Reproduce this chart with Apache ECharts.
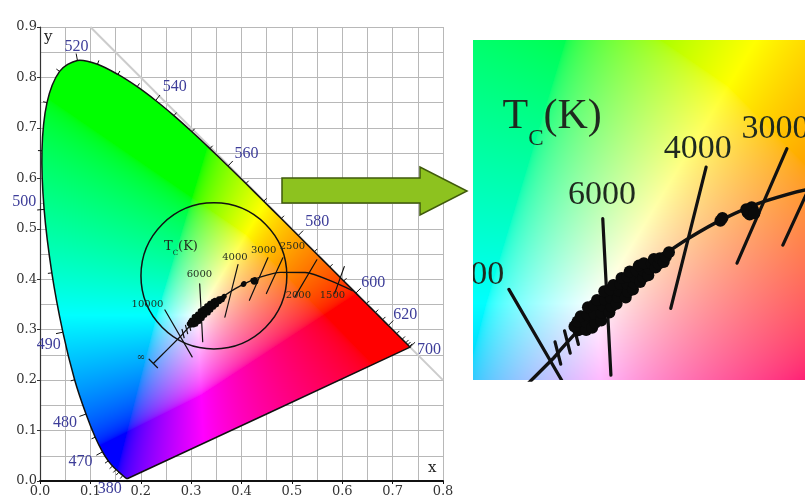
<!DOCTYPE html>
<html>
<head>
<meta charset="utf-8">
<title>CIE 1931 chromaticity diagram with Planckian locus</title>
<script src="https://cdn.jsdelivr.net/npm/echarts@6/dist/echarts.min.js"></script>
<style>
  html, body { margin: 0; padding: 0; background: #ffffff; }
  #chart { width: 805px; height: 498px; }
</style>
</head>
<body>
<div id="chart"></div>
<script>
// ---- Spectral locus (CIE 1931, 2 degree observer) ----
const wavelengths = [380, 400, 420, 440, 450, 455, 460, 465, 470, 475, 480, 485, 490, 495, 500, 505, 510, 515, 520, 525, 530, 535, 540, 545, 550, 555, 560, 565, 570, 575, 580, 585, 590, 595, 600, 605, 610, 615, 620, 630, 640, 650, 660, 680, 700];
const locusX = [0.1741, 0.1733, 0.1714, 0.1644, 0.1566, 0.1510, 0.1440, 0.1355, 0.1241, 0.1096, 0.0913, 0.0687, 0.0454, 0.0235, 0.0082, 0.0039, 0.0139, 0.0389, 0.0743, 0.1142, 0.1547, 0.1929, 0.2296, 0.2658, 0.3016, 0.3373, 0.3731, 0.4087, 0.4441, 0.4788, 0.5125, 0.5448, 0.5752, 0.6029, 0.6270, 0.6482, 0.6658, 0.6801, 0.6915, 0.7079, 0.7190, 0.7260, 0.7300, 0.7334, 0.7347];
const locusY = [0.0050, 0.0048, 0.0051, 0.0109, 0.0177, 0.0227, 0.0297, 0.0399, 0.0578, 0.0868, 0.1327, 0.2007, 0.2950, 0.4127, 0.5384, 0.6548, 0.7502, 0.8120, 0.8338, 0.8262, 0.8059, 0.7816, 0.7543, 0.7243, 0.6923, 0.6589, 0.6245, 0.5896, 0.5547, 0.5202, 0.4866, 0.4544, 0.4242, 0.3965, 0.3725, 0.3514, 0.3340, 0.3197, 0.3083, 0.2920, 0.2809, 0.2740, 0.2700, 0.2666, 0.2653];
const labeledWavelengths = [380, 470, 480, 490, 500, 520, 540, 560, 580, 600, 620, 700];

// ---- x + y = 1 reference line ----
const refLineX = [0.1, 0.8];
const refLineY = [0.9, 0.2];

// ---- Planckian (black body) locus ----
const planckT = ['∞', 10000, 9000, 8000, 7000, 6500, 6000, 5500, 5000, 4500, 4000, 3500, 3000, 2500, 2000, 1500, 1200];
const planckX = [0.2250, 0.2807, 0.2869, 0.2952, 0.3064, 0.3135, 0.3221, 0.3325, 0.3451, 0.3608, 0.3805, 0.4053, 0.4369, 0.4770, 0.5267, 0.5857, 0.6210];
const planckY = [0.2330, 0.2884, 0.2956, 0.3048, 0.3166, 0.3237, 0.3318, 0.3411, 0.3516, 0.3636, 0.3768, 0.3907, 0.4041, 0.4137, 0.4133, 0.3931, 0.3770];

// ---- Isotherm segments crossing the locus (end points) ----
const isoT  = ['∞', 10000, 'a', 'b', 'c', 6000, 4000, 3000, 2500, 2000, 1500];
const isoX1 = [0.2166, 0.2480, 0.2819, 0.2889, 0.2949, 0.3170, 0.3930, 0.4524, 0.4821, 0.5496, 0.6040];
const isoY1 = [0.2414, 0.3390, 0.3004, 0.3085, 0.3150, 0.3910, 0.4290, 0.4425, 0.4425, 0.4385, 0.4250];
const isoX2 = [0.2334, 0.3020, 0.2861, 0.2931, 0.2991, 0.3230, 0.3670, 0.4157, 0.4494, 0.5060, 0.5850];
const isoY2 = [0.2246, 0.2460, 0.2840, 0.2921, 0.2986, 0.2760, 0.3250, 0.3583, 0.3716, 0.3651, 0.3720];

// ---- Measured chromaticity points ----
const clusterX = [0.2990, 0.2962, 0.3048, 0.2985, 0.3050, 0.3092, 0.3008, 0.3059, 0.3115, 0.3110, 0.3061, 0.3159, 0.3161, 0.3105, 0.3170, 0.3219, 0.3128, 0.3186, 0.3235, 0.3230, 0.3181, 0.3272, 0.3281, 0.3225, 0.3290, 0.3339, 0.3248, 0.3299, 0.3355, 0.3350, 0.3308, 0.3392, 0.3401, 0.3352, 0.3410, 0.3368, 0.3445, 0.3419, 0.3468, 0.3470, 0.3435, 0.3505, 0.3514, 0.3472, 0.3530, 0.3558, 0.3546, 0.3581, 0.3590, 0.3618, 0.3634, 0.3657,
                  0.4255, 0.4235, 0.4275, 0.4250, 0.4265, 0.4225, 0.4285, 0.4035, 0.4050];
const clusterY = [0.3090, 0.3118, 0.3092, 0.3155, 0.3150, 0.3108, 0.3192, 0.3201, 0.3145, 0.3210, 0.3259, 0.3161, 0.3219, 0.3275, 0.3270, 0.3221, 0.3312, 0.3314, 0.3265, 0.3327, 0.3376, 0.3285, 0.3334, 0.3390, 0.3380, 0.3331, 0.3422, 0.3429, 0.3373, 0.3432, 0.3474, 0.3390, 0.3435, 0.3484, 0.3480, 0.3522, 0.3445, 0.3528, 0.3479, 0.3530, 0.3565, 0.3495, 0.3541, 0.3583, 0.3580, 0.3552, 0.3614, 0.3579, 0.3620, 0.3592, 0.3631, 0.3663,
                  0.3965, 0.3955, 0.3975, 0.3940, 0.3995, 0.3980, 0.3950, 0.3895, 0.3915];

// ---- Colour temperature annotations ----
const tempLabelText = ['Tc(K)', '10000', '6000', '4000', '3000', '2500', '2000', '1500', '∞'];
const tempLabelX = [0.2798, 0.2133, 0.3165, 0.3869, 0.4440, 0.5010, 0.5129, 0.5804, 0.2004];
const tempLabelY = [0.4610, 0.3492, 0.4087, 0.4425, 0.4570, 0.4643, 0.3671, 0.3671, 0.2460];

// ---- Circle marking the magnified region ----
const circleX = [0.3452];
const circleY = [0.4067];
const circleR = [0.1448];

// ---------------------------------------------------------------
// Layout and look
const axisRange = [
  { x: [0, 0.8], y: [0, 0.9] },
  { x: [0.2216, 0.4657], y: [0.2724, 0.5224] }
];
const look = [
  { line: 1.3, iso: 1.2, dot: 5, numSize: 10, numFamily: 'DejaVu Serif', titleSize: 13, titleFamily: 'DejaVu Serif' },
  { line: 3.4, iso: 3.2, dot: 12, numSize: 34, numFamily: 'Liberation Serif', titleSize: 42, titleFamily: 'Liberation Serif' }
];
const annotColor = '#1f2a1f';
const wlColor = '#3d3d99';
// pixel offset of each wavelength label from its point on the locus
const wlLabelOffset = {
  380: [-18, 10], 470: [-22, 10], 480: [-21, 9], 490: [-14, 13], 500: [-20, -8],
  520: [-1, -14], 540: [19, -14], 560: [18.5, -12], 580: [19, -14], 600: [17.5, -10],
  620: [17, -11], 700: [19, 3]
};

let chromaPattern = null;

// xy chromaticity -> display RGB (clipped to the gamut, brightest channel at 1)
function chromaticityRGB(x, y) {
  const yy = Math.max(y, 1e-4);
  const X = x / yy, Z = (1 - x - y) / yy;
  let r = 3.2406 * X - 1.5372 - 0.4986 * Z;
  let g = -0.9689 * X + 1.8758 + 0.0415 * Z;
  let b = 0.0557 * X - 0.2040 + 1.0570 * Z;
  r = Math.max(r, 0); g = Math.max(g, 0); b = Math.max(b, 0);
  const m = Math.max(r, g, b) || 1;
  const floor = 0.06;
  return [r / m, g / m, b / m].map(c => {
    const v = Math.max(0, (c - floor) / (1 - floor));
    return Math.round(255 * Math.pow(v, 1 / 2.0));
  });
}

function mainOnly(k) { return k === 0; }

function seriesFor(k) {
  const L = look[k];
  const list = [];

  if (mainOnly(k)) {
    list.push({
      type: 'line', xAxisIndex: 0, yAxisIndex: 0, z: 1, silent: true,
      data: refLineX.map((x, i) => [x, refLineY[i]]),
      symbol: 'none', lineStyle: { color: '#cccccc', width: 2 }
    });
    list.push({
      type: 'custom', xAxisIndex: 0, yAxisIndex: 0, z: 2, silent: true,
      data: [0],
      renderItem: (params, api) => {
        const pts = locusX.map((x, i) => api.coord([x, locusY[i]]));
        const children = [{
          type: 'polygon',
          shape: { points: pts, smooth: 0.3 },
          style: { fill: chromaPattern || '#ffffff', stroke: '#111111', lineWidth: 1.5 }
        }];
        wavelengths.forEach((w, i) => {
          if (w < 440) return;
          const p = pts[i];
          const prev = pts[Math.max(i - 1, 0)];
          const next = pts[Math.min(i + 1, pts.length - 1)];
          const dx = next[0] - prev[0], dy = next[1] - prev[1];
          const len = Math.hypot(dx, dy) || 1;
          const nx = dy / len, ny = -dx / len;
          const tl = labeledWavelengths.includes(w) ? 7 : 4;
          children.push({
            type: 'line',
            shape: { x1: p[0], y1: p[1], x2: p[0] + nx * tl, y2: p[1] + ny * tl },
            style: { stroke: '#111111', lineWidth: 1 }
          });
        });
        labeledWavelengths.forEach(w => {
          const i = wavelengths.indexOf(w);
          const p = pts[i];
          const off = wlLabelOffset[w];
          children.push({
            type: 'text', x: p[0] + off[0], y: p[1] + off[1],
            style: { text: String(w), fill: wlColor, font: '16px "Liberation Serif"', align: 'center', verticalAlign: 'middle' }
          });
        });
        return { type: 'group', children };
      }
    });
    list.push({
      type: 'custom', xAxisIndex: 0, yAxisIndex: 0, z: 3, silent: true,
      data: circleX.map((x, i) => [x, circleY[i], circleR[i]]),
      renderItem: (params, api) => {
        const c = api.coord([api.value(0), api.value(1)]);
        const r = api.size([api.value(2), api.value(2)]);
        return {
          type: 'ellipse',
          shape: { cx: c[0], cy: c[1], rx: r[0], ry: r[1] },
          style: { fill: 'none', stroke: '#111111', lineWidth: 1.5 }
        };
      }
    });
  } else {
    list.push({
      type: 'custom', xAxisIndex: 1, yAxisIndex: 1, z: 1, silent: true, clip: true,
      data: [0],
      renderItem: (params, api) => {
        const r = axisRange[1];
        const a = api.coord([r.x[0], r.y[1]]);
        const b = api.coord([r.x[1], r.y[0]]);
        return {
          type: 'rect',
          shape: { x: a[0], y: a[1], width: b[0] - a[0], height: b[1] - a[1] },
          style: { fill: chromaPattern || '#ffffff' }
        };
      }
    });
  }

  list.push({
    type: 'line', xAxisIndex: k, yAxisIndex: k, z: 4, silent: true, clip: true,
    data: planckX.map((x, i) => [x, planckY[i]]),
    symbol: 'none', smooth: 0.25,
    lineStyle: { color: '#111111', width: L.line }
  });

  list.push({
    type: 'custom', xAxisIndex: k, yAxisIndex: k, z: 4, silent: true, clip: true,
    data: isoX1.map((x, i) => [x, isoY1[i], isoX2[i], isoY2[i]]),
    encode: { x: [0, 2], y: [1, 3] },
    renderItem: (params, api) => {
      const a = api.coord([api.value(0), api.value(1)]);
      const b = api.coord([api.value(2), api.value(3)]);
      return {
        type: 'line',
        shape: { x1: a[0], y1: a[1], x2: b[0], y2: b[1] },
        style: { stroke: '#111111', lineWidth: L.iso, lineCap: 'round' }
      };
    }
  });

  list.push({
    type: 'scatter', xAxisIndex: k, yAxisIndex: k, z: 5, silent: true, clip: true,
    data: clusterX.map((x, i) => [x, clusterY[i]]),
    symbol: 'circle', symbolSize: L.dot,
    itemStyle: { color: '#0a0a0a', opacity: 1 }
  });

  list.push({
    type: 'custom', xAxisIndex: k, yAxisIndex: k, z: 6, silent: true, clip: true,
    data: tempLabelX.map((x, i) => [x, tempLabelY[i], i]),
    renderItem: (params, api) => {
      const p = api.coord([api.value(0), api.value(1)]);
      const txt = tempLabelText[api.value(2)];
      if (txt === 'Tc(K)') {
        const S = L.titleSize;
        return {
          type: 'text', x: p[0], y: p[1],
          style: {
            text: '{t|T}{s|C}{t|(K)}',
            align: 'center', verticalAlign: 'middle',
            rich: {
              t: { fontSize: S, fontFamily: L.titleFamily, fill: annotColor, lineHeight: S, verticalAlign: 'top' },
              s: { fontSize: S * 0.55, fontFamily: L.titleFamily, fill: annotColor, lineHeight: S * 1.3, verticalAlign: 'bottom' }
            }
          }
        };
      }
      return {
        type: 'text', x: p[0], y: p[1],
        style: { text: txt, fill: annotColor, font: L.numSize + 'px "' + L.numFamily + '"', align: 'center', verticalAlign: 'middle' }
      };
    }
  });
  return list;
}

function buildOption() {
  const axisText = { fontFamily: 'DejaVu Serif', fontSize: 13, color: '#333333' };
  return {
    animation: false,
    backgroundColor: '#ffffff',
    grid: [
      { left: 40, top: 27, width: 403, height: 454 },
      { left: 473, top: 40, width: 332, height: 340 }
    ],
    xAxis: [
      {
        type: 'value', gridIndex: 0, min: 0, max: 0.8, interval: 0.1,
        name: 'x', nameLocation: 'end', nameGap: -15,
        nameTextStyle: { fontFamily: 'DejaVu Serif', fontSize: 15, color: '#222', verticalAlign: 'bottom', padding: [0, 0, 5, 0] },
        axisLine: { show: true, onZero: false, lineStyle: { color: '#111', width: 2 } },
        axisTick: { show: true, length: 3, lineStyle: { color: '#111' } },
        axisLabel: Object.assign({ margin: 4, formatter: v => v.toFixed(1) }, axisText),
        splitLine: { show: true, lineStyle: { color: '#b8b8b8', width: 1 } },
        minorTick: { show: false, splitNumber: 2 },
        minorSplitLine: { show: true, lineStyle: { color: '#b8b8b8', width: 1 } }
      },
      {
        type: 'value', gridIndex: 1, min: axisRange[1].x[0], max: axisRange[1].x[1],
        show: false, splitLine: { show: false }
      }
    ],
    yAxis: [
      {
        type: 'value', gridIndex: 0, min: 0, max: 0.9, interval: 0.1,
        name: 'y', nameLocation: 'end', nameGap: -18,
        nameTextStyle: { fontFamily: 'DejaVu Serif', fontSize: 15, color: '#222', align: 'left', verticalAlign: 'bottom', padding: [0, 0, 0, 4] },
        axisLine: { show: true, onZero: false, lineStyle: { color: '#333', width: 1.2 } },
        axisTick: { show: true, length: 3, lineStyle: { color: '#333' } },
        axisLabel: Object.assign({ margin: 3, padding: [0, 0, 8, 0], formatter: v => v.toFixed(1) }, axisText),
        splitLine: { show: true, lineStyle: { color: '#b8b8b8', width: 1 } },
        minorTick: { show: false, splitNumber: 2 },
        minorSplitLine: { show: true, lineStyle: { color: '#b8b8b8', width: 1 } }
      },
      {
        type: 'value', gridIndex: 1, min: axisRange[1].y[0], max: axisRange[1].y[1],
        show: false, splitLine: { show: false }
      }
    ],
    graphic: [{
      type: 'polygon', z: 20, silent: true,
      shape: { points: [[282, 178], [420, 178], [420, 167], [467, 191], [420, 215], [420, 203], [282, 203]] },
      style: { fill: '#8dc21f', stroke: '#3f5a0c', lineWidth: 1.5 }
    }],
    series: seriesFor(0).concat(seriesFor(1))
  };
}

const chart = echarts.init(document.getElementById('chart'), null, { renderer: 'canvas', devicePixelRatio: 1, width: 805, height: 498 });
chart.setOption(buildOption());

// Paint the chromaticity colours for every pixel of both plot areas,
// using each grid's own data <-> pixel mapping.
function paintChromaticity() {
  const W = 805, H = 498;
  const cv = document.createElement('canvas');
  cv.width = W; cv.height = H;
  const ctx = cv.getContext('2d');
  const img = ctx.createImageData(W, H);
  [0, 1].forEach(k => {
    const r = axisRange[k];
    const tl = chart.convertToPixel({ gridIndex: k }, [r.x[0], r.y[1]]);
    const br = chart.convertToPixel({ gridIndex: k }, [r.x[1], r.y[0]]);
    const x0 = Math.max(0, Math.floor(tl[0]) - 1), x1 = Math.min(W, Math.ceil(br[0]) + 1);
    const y0 = Math.max(0, Math.floor(tl[1]) - 1), y1 = Math.min(H, Math.ceil(br[1]) + 1);
    for (let py = y0; py < y1; py++) {
      const dy = r.y[1] + (py + 0.5 - tl[1]) / (br[1] - tl[1]) * (r.y[0] - r.y[1]);
      for (let px = x0; px < x1; px++) {
        const dx = r.x[0] + (px + 0.5 - tl[0]) / (br[0] - tl[0]) * (r.x[1] - r.x[0]);
        const c = chromaticityRGB(dx, dy);
        const o = (py * W + px) * 4;
        img.data[o] = c[0]; img.data[o + 1] = c[1]; img.data[o + 2] = c[2]; img.data[o + 3] = 255;
      }
    }
  });
  ctx.putImageData(img, 0, 0);
  return cv;
}

chromaPattern = { image: paintChromaticity(), repeat: 'no-repeat' };
chart.setOption(buildOption(), true);
</script>
</body>
</html>
